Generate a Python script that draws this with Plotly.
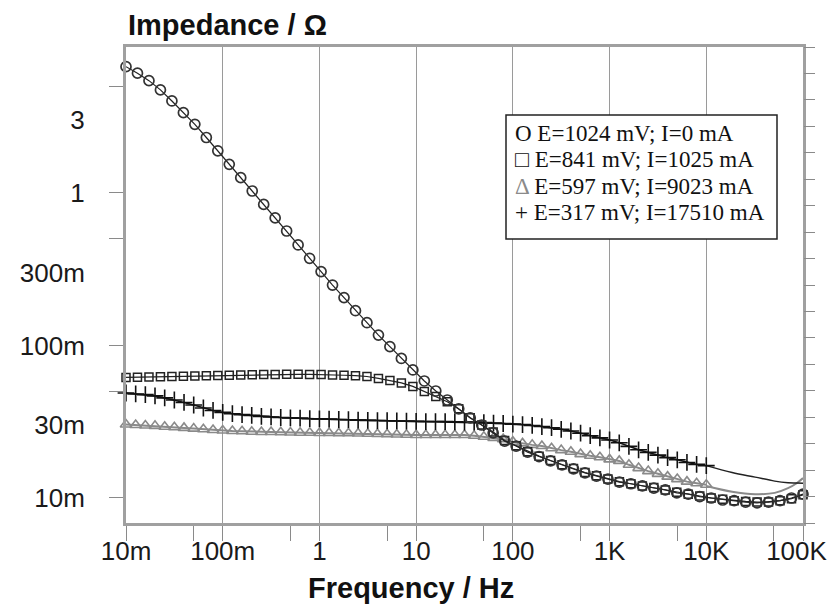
import plotly.graph_objects as go

# ---------------- data ----------------
# frequency grid of circle / square series (Hz)
freq_a = [0.01, 0.01314, 0.01728, 0.0227, 0.02983, 0.03921, 0.05152, 0.06771, 0.08896, 0.1169,
          0.1536, 0.2019, 0.2653, 0.3486, 0.4581, 0.602, 0.7911, 1.04, 1.366, 1.796,
          2.36, 3.101, 4.075, 5.355, 7.037, 9.25, 12.15, 15.97, 20.99, 27.58,
          36.25, 47.64, 62.6, 82.27, 108.1, 142.1, 186.7, 245.4, 322.5, 423.8,
          556.9, 731.9, 961.8, 1264, 1661, 2183, 2869, 3770, 4955, 6511,
          8557, 11240, 14770, 19410, 25510, 33530, 44060, 57900, 76090, 100000]

# frequency grid of triangle / plus series (Hz)
freq_b = [0.01, 0.01259, 0.01585, 0.01995, 0.02512, 0.03162, 0.03981, 0.05012, 0.0631, 0.07943,
          0.1, 0.1259, 0.1585, 0.1995, 0.2512, 0.3162, 0.3981, 0.5012, 0.631, 0.7943,
          1.0, 1.259, 1.585, 1.995, 2.512, 3.162, 3.981, 5.012, 6.31, 7.943,
          10, 12.59, 15.85, 19.95, 25.12, 31.62, 39.81, 50.12, 63.1, 79.43,
          100, 125.9, 158.5, 199.5, 251.2, 316.2, 398.1, 501.2, 631, 794.3,
          1000, 1259, 1585, 1995, 2512, 3162, 3981, 5012, 6310, 7943, 10000]

# |Z| in ohm
z_circle = [6.73, 6.10, 5.45, 4.74, 4.01, 3.36, 2.82, 2.31, 1.89, 1.54,
            1.26, 1.03, 0.841, 0.686, 0.563, 0.456, 0.373, 0.305, 0.249, 0.206,
            0.169, 0.141, 0.117, 0.0982, 0.0822, 0.0691, 0.0585, 0.0503, 0.0439, 0.0384,
            0.0335, 0.0301, 0.0267, 0.0236, 0.0219, 0.0200, 0.0187, 0.0175, 0.0165, 0.0155,
            0.0146, 0.0139, 0.0133, 0.0127, 0.0124, 0.0120, 0.0116, 0.0113, 0.0108, 0.0106,
            0.0102, 0.0100, 0.0097, 0.0096, 0.0094, 0.0093, 0.0094, 0.0096, 0.0100, 0.0106]

z_square = [0.0617, 0.0619, 0.0621, 0.0623, 0.0626, 0.0628, 0.0631, 0.0634, 0.0636, 0.0638,
            0.0641, 0.0643, 0.0645, 0.0646, 0.0647, 0.0647, 0.0646, 0.0645, 0.0641, 0.0638,
            0.0634, 0.0626, 0.0608, 0.0590, 0.0568, 0.0539, 0.0499, 0.0463, 0.0428, 0.0384,
            0.0336, 0.0301, 0.0271, 0.0238, 0.0220, 0.0201, 0.0188, 0.0176, 0.0165, 0.0156,
            0.0147, 0.0140, 0.0133, 0.0128, 0.0124, 0.0120, 0.0117, 0.0113, 0.0109, 0.0106,
            0.0103, 0.0100, 0.0098, 0.0096, 0.0095, 0.0094, 0.0094, 0.0096, 0.0099, 0.0105]

z_triangle = [0.0303, 0.0301, 0.0299, 0.0297, 0.0293, 0.0291, 0.0288, 0.0285, 0.0282, 0.0279,
              0.0277, 0.0275, 0.0274, 0.0272, 0.0271, 0.0271, 0.0270, 0.0269, 0.0268, 0.0268,
              0.0267, 0.0267, 0.0266, 0.0266, 0.0265, 0.0264, 0.0263, 0.0262, 0.0261, 0.0260,
              0.0259, 0.0259, 0.0259, 0.0259, 0.0259, 0.0259, 0.0256, 0.0252, 0.0248, 0.0243,
              0.0234, 0.0228, 0.0223, 0.0219, 0.0212, 0.0206, 0.0201, 0.0194, 0.0189, 0.0185,
              0.0179, 0.0175, 0.0165, 0.0157, 0.0150, 0.0144, 0.0138, 0.0133, 0.0128, 0.0125,
              0.0122]

z_plus = [0.0488, 0.0481, 0.0476, 0.0467, 0.0453, 0.0439, 0.0423, 0.0407, 0.0389, 0.0375,
          0.0364, 0.0357, 0.0352, 0.0348, 0.0343, 0.0340, 0.0337, 0.0335, 0.0334, 0.0331,
          0.0330, 0.0329, 0.0327, 0.0326, 0.0324, 0.0323, 0.0322, 0.0321, 0.0320, 0.0319,
          0.0318, 0.0317, 0.0317, 0.0317, 0.0316, 0.0315, 0.0314, 0.0312, 0.0310, 0.0308,
          0.0305, 0.0303, 0.0299, 0.0294, 0.0289, 0.0282, 0.0275, 0.0266, 0.0256, 0.0248,
          0.0240, 0.0230, 0.0218, 0.0207, 0.0199, 0.0191, 0.0184, 0.0178, 0.0171, 0.0166,
          0.0163]

# fitted-curve continuations beyond the measured range
fit_freq = [10000, 18500, 32000, 51000, 70000, 86000, 100000]
fit_plus = [0.0163, 0.0147, 0.0137, 0.0129, 0.0126, 0.01255, 0.0125]
fit_triangle = [0.0120, 0.0110, 0.0106, 0.0108, 0.0116, 0.0125, 0.0135]

legend_lines = ["O E=1024 mV; I=0 mA",
                "<b>□</b> E=841 mV; I=1025 mA",
                "<span style='color:#8a8a8a'>Δ</span> E=597 mV; I=9023 mA",
                "+ E=317 mV; I=17510 mA"]

x_tickvals = [0.01, 0.1, 1, 10, 100, 1000, 10000, 100000]
x_ticktext = ["10m", "100m", "1", "10", "100", "1K", "10K", "100K\u2002"]
x_marks = [0.01, 0.05, 0.1, 0.5, 1, 5, 10, 50, 100, 500, 1000, 5000, 10000, 50000, 100000]
y_tickvals = [0.01, 0.03, 0.1, 0.3, 1, 3]
y_ticktext = ["10m", "30m", "100m", "300m", "1", "3"]
y_marks = [0.01, 0.05, 0.1, 0.5, 1, 5]

# ---------------- figure ----------------
GRAY = "#8a8a8a"
fig = go.Figure()

fig.add_trace(go.Scatter(x=fit_freq, y=fit_triangle, mode="lines", line=dict(color=GRAY, width=2, shape="spline"),
                         showlegend=False, cliponaxis=False))
fig.add_trace(go.Scatter(x=freq_b, y=z_triangle, mode="lines+markers",
                         line=dict(color=GRAY, width=2),
                         marker=dict(symbol="triangle-up-open", size=10, color=GRAY, line=dict(width=1.6)),
                         showlegend=False, cliponaxis=False))
fig.add_trace(go.Scatter(x=fit_freq, y=fit_plus, mode="lines", line=dict(color="#222", width=1.5, shape="spline"),
                         showlegend=False, cliponaxis=False))
fig.add_trace(go.Scatter(x=freq_b, y=z_plus, mode="lines+markers",
                         line=dict(color="#111", width=1.5),
                         marker=dict(symbol="cross-thin-open", size=12, color="#111", line=dict(width=1.6, color="#111")),
                         showlegend=False, cliponaxis=False))
fig.add_trace(go.Scatter(x=freq_a, y=z_square, mode="lines+markers",
                         line=dict(color="#222", width=1.2),
                         marker=dict(symbol="square-open", size=8, color="#222", line=dict(width=1.5)),
                         showlegend=False, cliponaxis=False))
fig.add_trace(go.Scatter(x=freq_a, y=z_circle, mode="lines+markers",
                         line=dict(color="#222", width=1.2),
                         marker=dict(symbol="circle-open", size=10, color="#333", line=dict(width=1.7)),
                         showlegend=False, cliponaxis=False))
# dummy trace for the right-hand linear tick axis
fig.add_trace(go.Scatter(x=[None], y=[None], yaxis="y2", showlegend=False, hoverinfo="skip"))

tickfont = dict(family="Liberation Sans, Arial", size=26, color="#1a1a1a")
# the page body adds an 8 px margin, so the figure is offset by 8 px in the window
fig.update_layout(
    width=827, height=602,
    margin=dict(l=118, r=32, t=39, b=87, pad=0, autoexpand=False),
    paper_bgcolor="white", plot_bgcolor="white",
    xaxis=dict(type="log", range=[-2, 5], tickmode="array", tickvals=x_tickvals, ticktext=x_ticktext,
               ticks="", ticklabelstandoff=3, automargin=False, ticklabeloverflow="allow",
               minor=dict(tickmode="array", tickvals=x_marks, ticks="outside", ticklen=15,
                          tickcolor=GRAY, tickwidth=1, showgrid=False),
               showgrid=True, gridcolor="#9a9a9a", gridwidth=1,
               showline=True, linecolor="#a0a0a0", linewidth=3, mirror=True,
               tickfont=tickfont, zeroline=False),
    yaxis=dict(type="log", range=[-2.164, 0.957], tickmode="array", tickvals=y_tickvals, ticktext=y_ticktext,
               ticks="", ticklabelstandoff=33, automargin=False,
               minor=dict(tickmode="array", tickvals=y_marks, ticks="outside", ticklen=14,
                          tickcolor=GRAY, tickwidth=1, showgrid=False),
               showgrid=False, showline=True, linecolor="#a0a0a0", linewidth=3, mirror=True,
               tickfont=tickfont, zeroline=False),
    yaxis2=dict(overlaying="y", side="right", range=[0, 18], tickmode="array", tickvals=list(range(19)),
                ticks="outside", ticklen=11, tickcolor=GRAY, showticklabels=False, automargin=False,
                showgrid=False, zeroline=False, showline=False),
)

# axis titles
fig.add_annotation(text="<b>Impedance / Ω</b>", xref="paper", yref="paper", x=0.0, y=1.046,
                   xanchor="left", yanchor="middle", showarrow=False,
                   font=dict(family="Liberation Sans, Arial", size=29, color="#111"))
fig.add_annotation(text="<b>Frequency / Hz</b>", xref="paper", yref="paper", x=(306 - 126) / 677, y=-0.137,
                   xanchor="left", yanchor="middle", showarrow=False,
                   font=dict(family="Liberation Sans, Arial", size=29, color="#111"))

# legend box
fig.add_shape(type="rect", xref="paper", yref="paper", x0=0.5613, x1=0.9616, y0=0.5966, y1=0.857,
              line=dict(color="#222", width=1.5), fillcolor="white", layer="above")
for i, txt in enumerate(legend_lines):
    fig.add_annotation(text=txt, xref="paper", yref="paper", x=0.5716, y=0.8193 - i * 0.0557,
                       xanchor="left", yanchor="middle", showarrow=False,
                       font=dict(family="Liberation Serif, Times New Roman", size=23, color="#111"))

fig.write_html("out.html")
